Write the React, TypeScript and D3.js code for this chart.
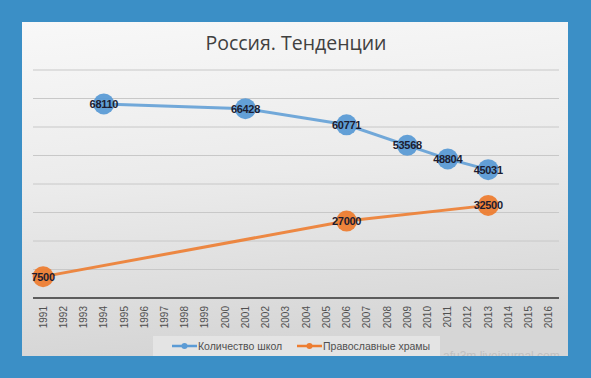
import React from "react";
import * as d3 from "d3";

const years: string[] = d3.range(1991, 2017).map(String);
const schoolYears: string[] = ["1994", "2001", "2006", "2009", "2011", "2013"];
const schoolValues: number[] = [68110, 66428, 60771, 53568, 48804, 45031];
const churchYears: string[] = ["1991", "2006", "2013"];
const churchValues: number[] = [7500, 27000, 32500];
const yTicks: number[] = [10000, 20000, 30000, 40000, 50000, 60000, 70000, 80000];
const title = "Россия. Тенденции";
const seriesNames: string[] = ["Количество школ", "Православные храмы"];

const W = 591;
const H = 378;
const BLUE = "#5b9bd5";
const ORANGE = "#ed7d31";

export default function App() {
  const x = d3.scaleBand<string>().domain(years).range([33, 559]).padding(0);
  const y = d3.scaleLinear().domain([0, 80000]).range([298, 70]);
  const cx = (yr: string) => (x(yr) as number) + x.bandwidth() / 2;
  const line = d3
    .line<[string, number]>()
    .x((d) => cx(d[0]))
    .y((d) => y(d[1]));
  const school: [string, number][] = schoolYears.map((yr, i) => [yr, schoolValues[i]]);
  const church: [string, number][] = churchYears.map((yr, i) => [yr, churchValues[i]]);
  const font = "'Liberation Sans', Arial, sans-serif";

  const series = [
    { data: school, color: BLUE },
    { data: church, color: ORANGE },
  ];

  return (
    <svg
      width={W}
      height={H}
      style={{ position: "fixed", left: 0, top: 0, display: "block" }}
      fontFamily={font}
    >
      <defs>
        <linearGradient id="bg" x1="0" y1="0" x2="0.15" y2="1">
          <stop offset="0" stopColor="#f8f8f8" />
          <stop offset="0.5" stopColor="#ebebeb" />
          <stop offset="1" stopColor="#d6d6d6" />
        </linearGradient>
        <clipPath id="panel">
          <rect x={22} y={22} width={546} height={334} />
        </clipPath>
      </defs>
      <rect x={0} y={0} width={W} height={H} fill="#3b8fc6" />
      <rect x={22} y={22} width={546} height={334} fill="url(#bg)" />

      <text x={296} y={50} textAnchor="middle" fontSize={19.5} fill="#404040" fontFamily="'Open Sans', 'Liberation Sans', sans-serif">
        {title}
      </text>

      {yTicks.map((t) => (
        <line key={t} x1={33} x2={559} y1={y(t)} y2={y(t)} stroke="#c8c8c8" strokeWidth={1} />
      ))}
      <line x1={33} x2={559} y1={y(0)} y2={y(0)} stroke="#303030" strokeWidth={1.6} />

      {years.map((yr) => (
        <text
          key={yr}
          transform={`translate(${cx(yr) + 3.5},${y(0) + 8}) rotate(-90)`}
          textAnchor="end"
          fontSize={10}
          fill="#505050"
        >
          {yr}
        </text>
      ))}

      {series.map((s, si) => (
        <g key={si}>
          <path d={line(s.data) as string} fill="none" stroke={s.color} strokeWidth={3} opacity={si === 0 ? 0.85 : 0.9} />
          {s.data.map((d) => (
            <circle key={d[0]} cx={cx(d[0])} cy={y(d[1])} r={10.5} fill={s.color} opacity={0.95} />
          ))}
          {s.data.map((d) => (
            <text
              key={"l" + d[0]}
              x={cx(d[0])}
              y={y(d[1]) + 4}
              textAnchor="middle"
              fontSize={11}
              fontWeight="bold"
              fill="#1c1c30"
              letterSpacing={-0.3}
            >
              {d[1]}
            </text>
          ))}
        </g>
      ))}

      <rect x={153} y={336} width={287} height={20} fill="#e4e4e4" />
      {[
        { x0: 172, color: BLUE, name: seriesNames[0] },
        { x0: 297, color: ORANGE, name: seriesNames[1] },
      ].map((l) => (
        <g key={l.name}>
          <line x1={l.x0} x2={l.x0 + 25} y1={346} y2={346} stroke={l.color} strokeWidth={2.5} />
          <circle cx={l.x0 + 12.5} cy={346} r={3} fill={l.color} />
          <text x={l.x0 + 26} y={350} fontSize={10.5} fill="#505050">
            {l.name}
          </text>
        </g>
      ))}

      <g clipPath="url(#panel)">
        <text x={443} y={360} fontSize={12} fill="#b8b8b8" opacity={0.7}>
          afu3m.livejournal.com
        </text>
      </g>
    </svg>
  );
}
